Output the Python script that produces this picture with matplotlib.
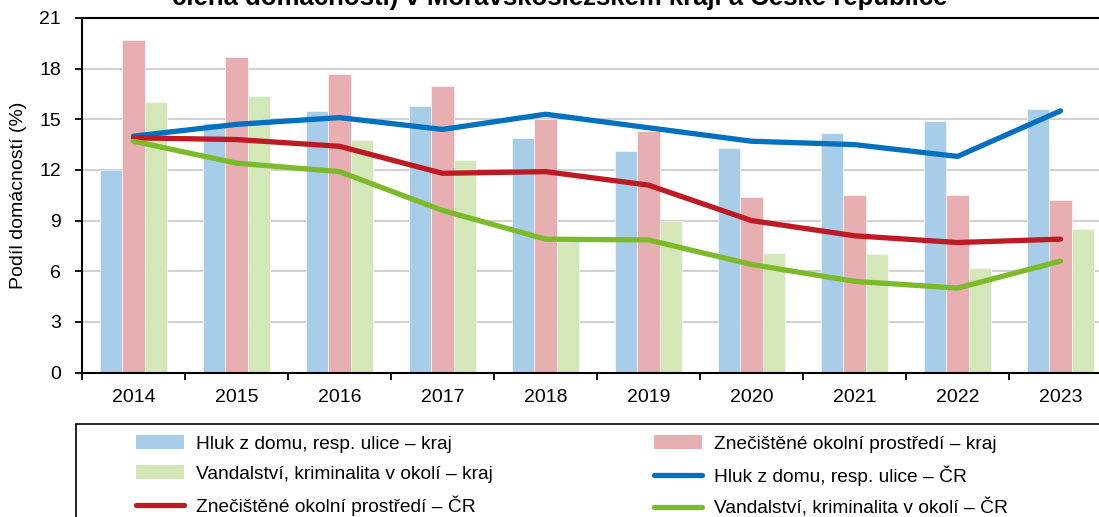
import numpy as np
import matplotlib
matplotlib.use("Agg")
import matplotlib.pyplot as plt
from matplotlib.patches import Rectangle, Patch
from matplotlib.lines import Line2D

plt.rcParams['font.family'] = ['Liberation Sans', 'DejaVu Sans']

years = ["2014", "2015", "2016", "2017", "2018", "2019", "2020", "2021", "2022", "2023"]

# kraj (bars)
hluk_kraj = [12.0, 14.8, 15.5, 15.8, 13.9, 13.1, 13.3, 14.2, 14.9, 15.6]
znec_kraj = [19.7, 18.7, 17.7, 17.0, 15.0, 14.3, 10.4, 10.5, 10.5, 10.2]
vand_kraj = [16.0, 16.4, 13.8, 12.6, 7.8, 9.0, 7.1, 7.0, 6.2, 8.5]

# CR (lines)
hluk_cr = [14.0, 14.7, 15.1, 14.4, 15.3, 14.5, 13.7, 13.5, 12.8, 15.5]
znec_cr = [13.9, 13.8, 13.4, 11.8, 11.9, 11.1, 9.0, 8.1, 7.7, 7.9]
vand_cr = [13.7, 12.4, 11.9, 9.6, 7.9, 7.85, 6.4, 5.4, 5.0, 6.6]

title = "člena domácnosti) v Moravskoslezském kraji a České republice"

W, H = 1099, 517
fig = plt.figure(figsize=(W / 100, H / 100), dpi=100)

x0, x1, y0, y1 = 82, 1112, 372.5, 18
ax = fig.add_axes([x0 / W, (H - y0) / H, (x1 - x0) / W, (y0 - y1) / H])

x = np.arange(len(years))
bw = 0.22
bar_blue, bar_pink, bar_green = '#a7cde8', '#e8afb2', '#d3e7b8'
ax.bar(x - bw, hluk_kraj, bw, color=bar_blue, edgecolor='white', linewidth=0.4, zorder=2)
ax.bar(x, znec_kraj, bw, color=bar_pink, edgecolor='white', linewidth=0.4, zorder=2)
ax.bar(x + bw, vand_kraj, bw, color=bar_green, edgecolor='white', linewidth=0.4, zorder=2)

lw = 3.8
ax.plot(x, hluk_cr, color='#0070c0', lw=lw, solid_capstyle='round', solid_joinstyle='round', zorder=3)
ax.plot(x, znec_cr, color='#be1a24', lw=lw, solid_capstyle='round', solid_joinstyle='round', zorder=3)
ax.plot(x, vand_cr, color='#7cba2a', lw=lw, solid_capstyle='round', solid_joinstyle='round', zorder=3)

ax.set_xlim(-0.5, len(years) - 0.5)
ax.set_ylim(0, 21)
ax.set_yticks(np.arange(0, 22, 3))
ax.yaxis.grid(True, color='#c8c8c8', lw=1.2, zorder=0)
ax.set_axisbelow(True)

ax.set_xticks(np.arange(-0.5, len(years), 1.0))
ax.set_xticklabels([])
ax.set_xticks(x, minor=True)
ax.set_xticklabels(years, minor=True)
ax.tick_params(axis='x', which='major', length=5, width=1.3, direction='out')
ax.tick_params(axis='x', which='minor', length=0, pad=12, labelsize=14)
ax.tick_params(axis='y', length=5, width=1.3, direction='out', labelsize=14, pad=10)

for s in ['left', 'bottom', 'top']:
    ax.spines[s].set_linewidth(1.5)
    ax.spines[s].set_color('black')
ax.spines['right'].set_visible(False)

ax.set_ylabel("Podíl domácností (%)", fontsize=14, labelpad=9)

fig.text(560 / W, 1 - 5 / H, title, ha='center', va='baseline', fontsize=18.5, fontweight='bold')

# legend frame cropped by the image edges
fig.patches.append(Rectangle((76 / W, -0.05), 1.1, (H - 424) / H + 0.05, transform=fig.transFigure,
                             fill=False, edgecolor='black', lw=1.2))

handles = [
    Patch(facecolor=bar_blue, edgecolor='none'),
    Patch(facecolor=bar_green, edgecolor='none'),
    Line2D([], [], color='#be1a24', lw=lw, solid_capstyle='round'),
    Patch(facecolor=bar_pink, edgecolor='none'),
    Line2D([], [], color='#0070c0', lw=lw, solid_capstyle='round'),
    Line2D([], [], color='#7cba2a', lw=lw, solid_capstyle='round'),
]
labels = [
    "Hluk z domu, resp. ulice – kraj",
    "Vandalství, kriminalita v okolí – kraj",
    "Znečištěné okolní prostředí – ČR",
    "Znečištěné okolní prostředí – kraj",
    "Hluk z domu, resp. ulice – ČR",
    "Vandalství, kriminalita v okolí – ČR",
]
fig.legend(handles, labels, ncol=2, frameon=False, loc='upper left',
           bbox_to_anchor=(123 / W, 1 - 422 / H), fontsize=13.8,
           handlelength=2.5, handletextpad=0.62, columnspacing=8.4,
           labelspacing=0.66, borderpad=0.2)

fig.savefig("out.png", dpi=100)
